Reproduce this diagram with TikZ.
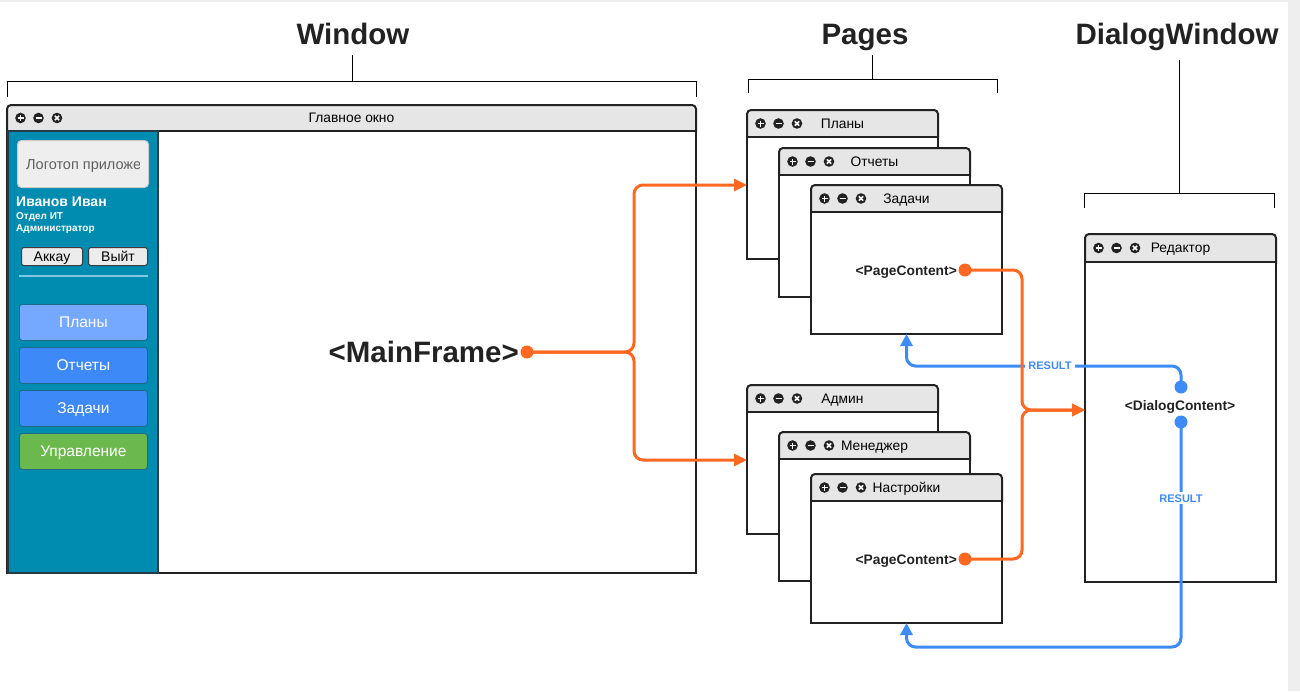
\documentclass[tikz,border=0pt]{standalone}
\usepackage{fontspec}
\setmainfont{Liberation Sans}
\usetikzlibrary{arrows.meta,calc}
\definecolor{orng}{RGB}{255,104,32}
\definecolor{bluel}{RGB}{61,139,247}
\definecolor{winline}{RGB}{34,34,34}
\definecolor{barfill}{RGB}{230,230,230}
\definecolor{sidefill}{RGB}{0,139,176}
\definecolor{sideedge}{RGB}{35,60,72}
\definecolor{navlight}{RGB}{117,169,255}
\definecolor{navmid}{RGB}{61,137,248}
\definecolor{navgreen}{RGB}{107,185,76}
\definecolor{navedge}{RGB}{30,105,135}
\definecolor{bgstrip}{RGB}{238,238,238}
\definecolor{titletext}{RGB}{34,34,34}
\definecolor{sepline}{RGB}{126,200,227}
\definecolor{logofill}{RGB}{238,238,238}
\definecolor{logoedge}{RGB}{200,200,200}
\definecolor{logotext}{RGB}{95,95,95}
\definecolor{btnfill}{RGB}{236,236,236}
\definecolor{btnedge}{RGB}{60,60,60}

\newcommand{\appwin}[7]{%
 \pgfmathsetmacro{\appW}{#4-#2}%
 \pgfmathsetmacro{\appH}{#5-#6}%
 \pgfmathsetmacro{\appB}{#6-#3+6}%
 \pgfmathsetmacro{\appCx}{(#2+#4)/2}%
 \pgfmathsetmacro{\appCy}{(#3+#6)/2}%
 \pgfmathsetmacro{\appTy}{\appCy+4.8}%
 \pgfmathsetmacro{\appIa}{#2+13.5}%
 \pgfmathsetmacro{\appIb}{#2+31.5}%
 \pgfmathsetmacro{\appIc}{#2+50}%
 \node[winbar,minimum width=\appW pt,minimum height=\appB pt,anchor=north west] (#1-bar) at (#2,#3) {};
 \node[winbody,minimum width=\appW pt,minimum height=\appH pt,anchor=north west] (#1) at (#2,#6) {};
 \node[wintitle] (#1-title) at (\appCx,\appTy) {#7};
 \pic at (\appIa,\appCy) {plusicon};
 \pic at (\appIb,\appCy) {minusicon};
 \pic at (\appIc,\appCy) {closeicon};
}

\begin{document}
\begin{tikzpicture}[x=1pt,y=-1pt,
 winbar/.style={draw=winline,fill=barfill,line width=2pt,rounded corners=4pt,inner sep=0pt,outer sep=0pt},
 winbody/.style={draw=winline,fill=white,line width=2pt,inner sep=0pt,outer sep=0pt},
 wintitle/.style={anchor=base,inner sep=0pt,font=\fontsize{13.8}{15}\selectfont,text=black},
 bigtitle/.style={anchor=base,inner sep=0pt,font=\fontsize{29.5}{32}\selectfont\bfseries,text=titletext},
 brk/.style={draw=black,line width=1pt},
 oline/.style={draw=orng,line width=3pt,rounded corners=9pt,-{Triangle[length=13pt,width=12pt]}},
 bline/.style={draw=bluel,line width=3pt,rounded corners=9pt,-{Triangle[length=12pt,width=12pt]}},
 dotO/.style={circle,fill=orng,inner sep=0pt,minimum size=13pt},
 dotB/.style={circle,fill=bluel,inner sep=0pt,minimum size=13pt},
 content/.style={inner sep=0pt,font=\fontsize{13.8}{15}\selectfont\bfseries,text=titletext},
 reslabel/.style={fill=white,inner xsep=3pt,inner ysep=2pt,font=\fontsize{11}{12}\selectfont\bfseries,text=bluel,text height=8pt,text depth=0pt},
 sidebar/.style={draw=sideedge,fill=sidefill,line width=1.2pt,inner sep=0pt,outer sep=0pt,anchor=north west,minimum width=150pt,minimum height=442pt},
 navbtn/.style={draw=navedge,rounded corners=3pt,line width=0.8pt,minimum width=128pt,minimum height=36pt,anchor=north west,text=white,font=\fontsize{15.5}{17}\selectfont,text height=11pt,text depth=0pt,inner sep=0pt},
 smallbtn/.style={draw=btnedge,fill=btnfill,rounded corners=2.5pt,line width=1pt,minimum height=18pt,anchor=north west,text=black,font=\fontsize{14}{15}\selectfont,text height=10pt,text depth=0pt,inner sep=0pt},
 usertext/.style={anchor=base west,inner sep=0pt,text=white},
 plusicon/.pic={\fill[winline] (0,0) circle (5.3pt); \draw[white,line width=1.6pt] (-3,0)--(3,0) (0,-3)--(0,3);},
 minusicon/.pic={\fill[winline] (0,0) circle (5.3pt); \draw[white,line width=1.6pt] (-3,0)--(3,0);},
 closeicon/.pic={\fill[winline] (0,0) circle (5.3pt); \draw[white,line width=1.5pt] (-2.2,-2.2)--(2.2,2.2) (-2.2,2.2)--(2.2,-2.2);}
]
\useasboundingbox (0,0) rectangle (1300,691);
\fill[white] (0,0) rectangle (1300,691);
\fill[bgstrip] (0,0) rectangle (1300,2);
\fill[bgstrip] (1288,0) rectangle (1300,691);

% headings and brackets
\node[bigtitle] (tWin) at (353,44) {Window};
\node[bigtitle] (tPg) at (865,44) {Pages};
\node[bigtitle] (tDlg) at (1177,44) {DialogWindow};
\draw[brk] (352,55) -- (352,81);
\draw[brk] (7,97) -- (7,81) -- (696,81) -- (696,97);
\draw[brk] (872,55) -- (872,79);
\draw[brk] (748,93) -- (748,79) -- (997,79) -- (997,93);
\draw[brk] (1179,60) -- (1179,193);
\draw[brk] (1084,208) -- (1084,193) -- (1274,193) -- (1274,208);

% main window
\appwin{main}{7}{105}{696}{573}{131}{Главное окно}
\node[sidebar] (side) at (8,131) {};
\node[draw=logoedge,fill=logofill,rounded corners=4pt,line width=1pt,anchor=north west,minimum width=131pt,minimum height=47pt,inner sep=0pt] (logo) at (17,140) {};
\begin{scope}
\clip (17,140) rectangle (139,187);
\node[anchor=base west,inner sep=0pt,text=logotext,font=\fontsize{14.5}{16}\selectfont] (logot) at (26,169) {Логотоп приложения};
\end{scope}
\node[usertext,font=\fontsize{14}{15}\selectfont\bfseries] (uname) at (16,206) {Иванов Иван};
\node[usertext,font=\fontsize{10}{11}\selectfont\bfseries] (udept) at (16,219.5) {Отдел ИТ};
\node[usertext,font=\fontsize{10}{11}\selectfont\bfseries] (urole) at (16,231.5) {Администратор};
\node[smallbtn,minimum width=61pt] (acc) at (21,247) {Аккау};
\node[smallbtn,minimum width=59pt] (ext) at (88,247) {Выйт};
\draw[sepline,line width=2pt] (19,276) -- (148,276);
\node[navbtn,fill=navlight] (nav1) at (19,304) {Планы};
\node[navbtn,fill=navmid] (nav2) at (19,347) {Отчеты};
\node[navbtn,fill=navmid] (nav3) at (19,390) {Задачи};
\node[navbtn,fill=navgreen] (nav4) at (19,433) {Управление};
\node[anchor=base east,inner sep=0pt,font=\fontsize{29.5}{32}\selectfont\bfseries,text=titletext] (mf) at (519,362) {<MainFrame>};
\node[dotO] (mfdot) at (527,352) {};

% pages
\appwin{pl}{747}{110}{938}{259}{137}{Планы}
\appwin{ot}{779}{148}{970}{297}{175}{Отчеты}
\appwin{za}{811}{185}{1002}{334}{212}{Задачи}
\node[content,anchor=base east] (pc1) at (957,275) {<PageContent>};
\node[dotO] (pc1dot) at (965,270) {};

\appwin{ad}{747}{385}{938}{534}{412}{Админ}
\appwin{me}{779}{432}{970}{581}{459}{Менеджер}
\appwin{na}{811}{474}{1002}{623}{501}{Настройки}
\node[content,anchor=base east] (pc2) at (957,564) {<PageContent>};
\node[dotO] (pc2dot) at (965,559) {};

% dialog
\appwin{ed}{1085}{234}{1276}{582}{262}{Редактор}
\node[content,anchor=base] (dc) at (1180,410) {<DialogContent>};
\node[dotB] (dc1) at (1181,387) {};
\node[dotB] (dc2) at (1181,422) {};

% junction coordinates
\coordinate (jA) at (634,352);
\coordinate (plin) at (747,185);
\coordinate (adin) at (747,460);
\coordinate (jB) at (1022,410);
\coordinate (edin) at (1085,410);
\coordinate (jC) at (906.5,366);
\coordinate (jD) at (906.5,647);

% blue result connectors
\draw[bline] (dc1.center) |- (jC) -- (za.south);
\draw[bline] (dc2.center) |- (jD) -- (na.south);
\node[reslabel] (r1) at (1050,365) {RESULT};
\node[reslabel] (r2) at (1181,498) {RESULT};

% orange connectors
\draw[oline] (mfdot.center) -- (jA) |- (plin);
\draw[oline] (mfdot.center) -- (jA) |- (adin);
\draw[oline] (pc1dot.center) -| (jB) -- (edin);
\draw[oline] (pc2dot.center) -| (jB) -- (edin);
\end{tikzpicture}
\end{document}
